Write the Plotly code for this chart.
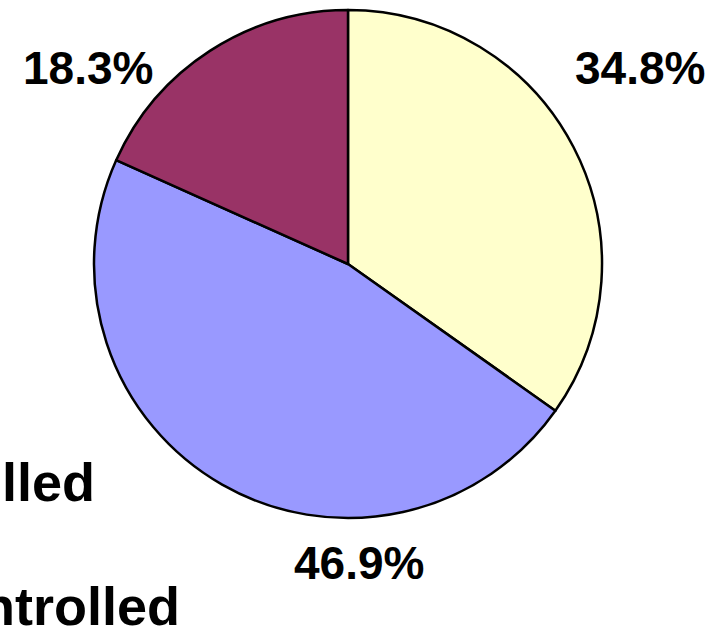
import plotly.graph_objects as go

# Slice shares (percent), clockwise from 12 o'clock
shares = [34.8, 46.9, 18.3]
slice_colors = ["#FFFFCC", "#9999FF", "#993366"]

# Trailing legend words running in from the left edge
legend_words = ["lled", "ntrolled"]

W, H = 719, 635
cx, cy, r = 348, 264, 254  # pie centre and radius in pixels


def px(x):
    return x / W


def py(y):
    return 1 - y / H


fig = go.Figure(
    go.Pie(
        values=shares,
        sort=False,
        direction="clockwise",
        rotation=0,
        marker=dict(colors=slice_colors, line=dict(color="black", width=2.5)),
        textinfo="none",
        hoverinfo="none",
        domain=dict(x=[px(cx - r), px(cx + r)], y=[py(cy + r), py(cy - r)]),
    )
)

# Percentage label centres (pixels) for each slice
label_pos = [(640, 68), (359, 563), (88, 68)]
font_label = dict(family="Arial, Liberation Sans, sans-serif", size=46,
                  color="black", weight="bold")
for v, (lx, ly) in zip(shares, label_pos):
    fig.add_annotation(x=px(lx), y=py(ly), xref="paper", yref="paper",
                       text=f"{v:.1f}%", showarrow=False,
                       xanchor="center", yanchor="middle", font=font_label)

# Legend text: (anchor x, centre y, horizontal anchor) in pixels
legend_pos = [(0, 482, "left"), (182, 606, "right")]
font_legend = dict(family="Arial, Liberation Sans, sans-serif", size=54,
                   color="black", weight="bold")
for word, (ax, ly, anchor) in zip(legend_words, legend_pos):
    fig.add_annotation(x=px(ax), y=py(ly), xref="paper", yref="paper",
                       text=word, showarrow=False,
                       xanchor=anchor, yanchor="middle", font=font_legend)

fig.update_layout(
    width=W, height=H,
    margin=dict(l=0, r=0, t=0, b=0),
    paper_bgcolor="white",
    plot_bgcolor="white",
    showlegend=False,
)

fig.write_html("out.html")
